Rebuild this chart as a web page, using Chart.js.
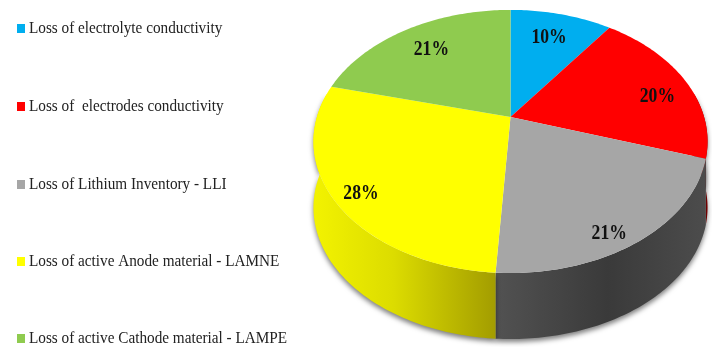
<!DOCTYPE html>
<html>
<head>
<meta charset="utf-8">
<style>
  html, body { margin: 0; background: #fff; }
  canvas { display: block; filter: blur(0.55px); }
</style>
<script src="https://cdn.jsdelivr.net/npm/chart.js@4"></script>
</head>
<body>
<canvas id="pie" width="712" height="347"></canvas>
<script>
// Causes of capacity loss, 3D looking pie
const categories = [
  'Loss of electrolyte conductivity',
  'Loss of  electrodes conductivity',
  'Loss of Lithium Inventory - LLI',
  'Loss of active Anode material - LAMNE',
  'Loss of active Cathode material - LAMPE'
];
const shares = [10, 20, 21, 28, 21];
const sliceColors = ['#00aeef', '#ff0000', '#a6a6a6', '#ffff00', '#8fcb4f'];

// perspective of the disc, apex sits above the middle of the rim ellipse
const APEX_X = 510.5, APEX_Y = 117;
const RADIUS_X = 193.6, RADIUS_Y = 127, TILT = 0.186;
const WALL_H = 66;
const LABEL_R = [0.75, 0.86, 0.88, 0.88, 0.77];
const LABEL_SHIFT = [[-1, 1], [-4, 12], [-12, 10], [3, 4], [3, 2]];
const LEGEND_Y = [29, 107, 185, 262, 339];

function project(angle, r) {
  const u = Math.cos(angle) * r;
  const v = Math.sin(angle) * r;
  const w = 1 - TILT * v;
  return { x: APEX_X + RADIUS_X * u / w, y: APEX_Y + RADIUS_Y * v / w };
}

function rimPoints(a0, a1) {
  const n = Math.max(2, Math.ceil((a1 - a0) * 60));
  const pts = [];
  for (let i = 0; i <= n; i++) pts.push(project(a0 + (a1 - a0) * i / n, 1));
  return pts;
}

function wallFill(ctx, i) {
  const g = ctx.createLinearGradient(316, 0, 705, 0);
  if (i === 3) {
    g.addColorStop(0, '#f2f200');
    g.addColorStop(0.2, '#dcdc00');
    g.addColorStop(0.46, '#a39d00');
    g.addColorStop(1, '#a39d00');
  } else if (i === 2) {
    g.addColorStop(0, '#5a5a5a');
    g.addColorStop(0.46, '#525252');
    g.addColorStop(0.75, '#3a3a3a');
    g.addColorStop(1, '#4c4c4c');
  } else {
    return '#8a0000';
  }
  return g;
}

// stretched text, the original type is narrower than Liberation Serif
function squeezedText(ctx, text, x, y, sx) {
  ctx.save();
  ctx.translate(x, y);
  ctx.scale(sx, 1);
  ctx.fillText(text, 0, 0);
  ctx.restore();
}

const disc3d = {
  id: 'disc3d',
  beforeDatasetDraw(chart) {
    const ctx = chart.ctx;
    const arcs = chart.getDatasetMeta(0).data;

    // side wall, only the part facing the viewer
    ctx.save();
    ctx.shadowColor = 'rgba(0,0,0,0.5)';
    ctx.shadowBlur = 5;
    ctx.shadowOffsetY = 3;
    arcs.forEach((arc, i) => {
      const a0 = Math.max(arc.startAngle, -0.19);
      const a1 = Math.min(arc.endAngle, Math.PI + 0.19);
      if (a1 <= a0) return;
      const pts = rimPoints(a0, a1);
      ctx.beginPath();
      pts.forEach((p, k) => k ? ctx.lineTo(p.x, p.y) : ctx.moveTo(p.x, p.y));
      pts.reverse().forEach(p => ctx.lineTo(p.x, p.y + WALL_H));
      ctx.closePath();
      ctx.fillStyle = wallFill(ctx, i);
      ctx.fill();
    });
    ctx.restore();

    // top face
    arcs.forEach((arc, i) => {
      ctx.beginPath();
      ctx.moveTo(APEX_X, APEX_Y);
      rimPoints(arc.startAngle, arc.endAngle).forEach(p => ctx.lineTo(p.x, p.y));
      ctx.closePath();
      ctx.fillStyle = sliceColors[i];
      ctx.fill();
    });

    // value labels
    ctx.fillStyle = '#111';
    ctx.font = 'bold 21px "Liberation Serif"';
    ctx.textAlign = 'center';
    ctx.textBaseline = 'middle';
    arcs.forEach((arc, i) => {
      const p = project((arc.startAngle + arc.endAngle) / 2, LABEL_R[i]);
      squeezedText(ctx, shares[i] + '%', p.x + LABEL_SHIFT[i][0], p.y + LABEL_SHIFT[i][1], 0.84);
    });

    // legend
    ctx.textAlign = 'left';
    ctx.font = '17px "Liberation Serif"';
    categories.forEach((name, i) => {
      ctx.fillStyle = sliceColors[i];
      ctx.fillRect(17, LEGEND_Y[i] - 5, 8, 9);
      ctx.fillStyle = '#222';
      squeezedText(ctx, name, 29, LEGEND_Y[i], 0.896);
    });
    return false;
  }
};

new Chart(document.getElementById('pie'), {
  type: 'pie',
  data: {
    labels: categories,
    datasets: [{ data: shares, backgroundColor: sliceColors, borderWidth: 0 }]
  },
  options: {
    responsive: false,
    animation: false,
    plugins: { legend: { display: false }, tooltip: { enabled: false } }
  },
  plugins: [disc3d]
});
</script>
</body>
</html>
